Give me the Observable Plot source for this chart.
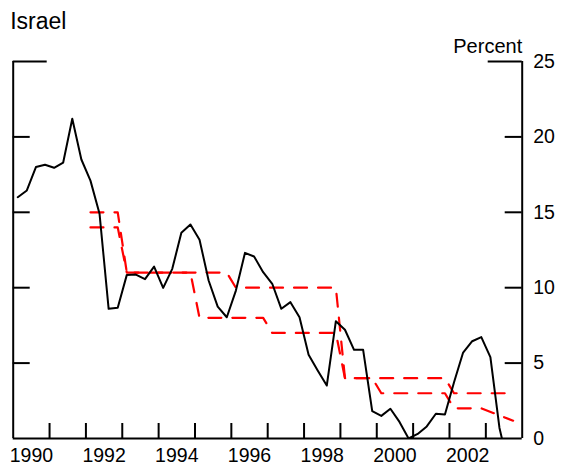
<!DOCTYPE html>
<html>
<head>
<meta charset="utf-8">
<script src="https://cdn.jsdelivr.net/npm/d3@7"></script>
<script src="https://cdn.jsdelivr.net/npm/@observablehq/plot@0.6"></script>
<style>
  html, body { margin: 0; padding: 0; background: #fff; }
</style>
</head>
<body>
<div id="chart"></div>
<script>
// ---- Data ----
const title = "Israel";
const unitLabel = "Percent";

// Inflation, quarterly (decimal-year mid-quarter dates)
const inflationDates = [
  1990.125, 1990.375, 1990.625, 1990.875,
  1991.125, 1991.375, 1991.625, 1991.875,
  1992.125, 1992.375, 1992.625, 1992.875,
  1993.125, 1993.375, 1993.625, 1993.875,
  1994.125, 1994.375, 1994.625, 1994.875,
  1995.125, 1995.375, 1995.625, 1995.875,
  1996.125, 1996.375, 1996.625, 1996.875,
  1997.125, 1997.375, 1997.625, 1997.875,
  1998.125, 1998.375, 1998.625, 1998.875,
  1999.125, 1999.375, 1999.625, 1999.875,
  2000.125, 2000.375, 2000.625, 2000.875,
  2001.125, 2001.375, 2001.625, 2001.875,
  2002.125, 2002.375, 2002.625, 2002.875,
  2003.125, 2003.375, 2003.625
];
const inflationValues = [
  16.0, 16.45, 18.0, 18.15,
  17.95, 18.3, 21.2, 18.5,
  17.1, 14.9, 8.6, 8.67,
  10.85, 10.87, 10.57, 11.4,
  9.99, 11.25, 13.64, 14.19,
  13.18, 10.48, 8.75, 8.04,
  9.81, 12.31, 12.07, 11.03,
  10.26, 8.6, 9.04, 8.04,
  5.55, 4.51, 3.51, 7.78,
  7.21, 5.88, 5.88, 1.81,
  1.5, 1.97, 1.1, 0.0,
  0.3, 0.8, 1.64, 1.59,
  3.73, 5.7, 6.45, 6.72,
  5.4, 0.7, -1.9
];

// Inflation target band: upper and lower bounds (break points)
const upperDates  = [1992.125, 1992.875, 1993.125, 1995.875, 1996.125, 1998.875, 1999.125, 2001.875, 2002.125, 2003.75];
const upperValues = [15, 15, 11, 11, 10, 10, 4, 4, 3, 3];
const lowerDates  = [1992.125, 1992.875, 1993.125, 1994.875, 1995.125, 1996.875, 1997.125, 1998.875, 1999.125, 1999.875, 2000.125, 2001.875, 2002.125, 2002.875, 2003.75];
const lowerValues = [14, 14, 11, 11, 8, 8, 7, 7, 4, 4, 3, 3, 2, 2, 1.18];

// Axes
const yTicks = [0, 5, 10, 15, 20, 25];
const yearTicks = [1991, 1992, 1993, 1994, 1995, 1996, 1997, 1998, 1999, 2000, 2001, 2002, 2003];
const yearLabels = [1990, 1992, 1994, 1996, 1998, 2000, 2002];

// ---- Layout ----
const W = 563, H = 466;
const mL = 12.7, mR = 41.3, mT = 61, mB = 28;
const plotW = W - mL - mR, plotH = H - mT - mB;

const inflation = inflationDates.map((d, i) => ({date: d, value: inflationValues[i]}));
const upper = upperDates.map((d, i) => ({date: d, value: upperValues[i]}));
const lower = lowerDates.map((d, i) => ({date: d, value: lowerValues[i]}));

const font = "'Liberation Sans', Arial, Helvetica, sans-serif";
const innerTicks = yTicks.filter(d => d > 0 && d < 25);
const topTick = yTicks.filter(d => d === 25);

const chart = Plot.plot({
  width: W,
  height: H,
  marginLeft: mL,
  marginRight: mR,
  marginTop: mT,
  marginBottom: mB,
  style: {fontFamily: font, fontSize: "19.5px", color: "#000", background: "#fff", overflow: "visible"},
  x: {type: "linear", domain: [1990, 2004]},
  y: {type: "linear", domain: [0, 25]},
  marks: [
    Plot.lineY(upper, {x: "date", y: "value", stroke: "#ff0000", strokeWidth: 2.2, strokeDasharray: "13,11"}),
    Plot.lineY(lower, {x: "date", y: "value", stroke: "#ff0000", strokeWidth: 2.2, strokeDasharray: "13,11"}),
    Plot.lineY(inflation, {x: "date", y: "value", stroke: "#000", strokeWidth: 2, clip: true}),
    // frame: left, right, bottom
    Plot.ruleX([1990], {stroke: "#000", strokeWidth: 2}),
    Plot.ruleX([2004], {stroke: "#000", strokeWidth: 2}),
    Plot.ruleY([0], {stroke: "#000", strokeWidth: 2.2}),
    // inward y ticks on both sides
    Plot.tickY(innerTicks, {y: d => d, stroke: "#000", strokeWidth: 2, insetRight: plotW - 17}),
    Plot.tickY(innerTicks, {y: d => d, stroke: "#000", strokeWidth: 2, insetLeft: plotW - 17}),
    Plot.tickY(topTick, {y: d => d, stroke: "#000", strokeWidth: 2, insetRight: plotW - 34}),
    Plot.tickY(topTick, {y: d => d, stroke: "#000", strokeWidth: 2, insetLeft: plotW - 34}),
    // inward x ticks at year boundaries
    Plot.tickX(yearTicks, {x: d => d, stroke: "#000", strokeWidth: 2, insetTop: plotH - 15}),
    // labels
    Plot.axisY(yTicks, {anchor: "right", tickSize: 0, tickPadding: 11, label: null, fontSize: 19.5}),
    Plot.axisX(yearLabels.map(d => d + 0.5), {anchor: "bottom", tickSize: 0, tickPadding: 10, label: null, fontSize: 19.5,
      tickFormat: d => String(Math.floor(d))}),
    Plot.text([unitLabel], {frameAnchor: "top-right", dy: -9, lineAnchor: "bottom", textAnchor: "end", fontSize: 20}),
    Plot.text([title], {frameAnchor: "top-left", dx: -3, dy: -33, lineAnchor: "bottom", textAnchor: "start", fontSize: 23})
  ]
});

document.getElementById("chart").appendChild(chart);
</script>
</body>
</html>
